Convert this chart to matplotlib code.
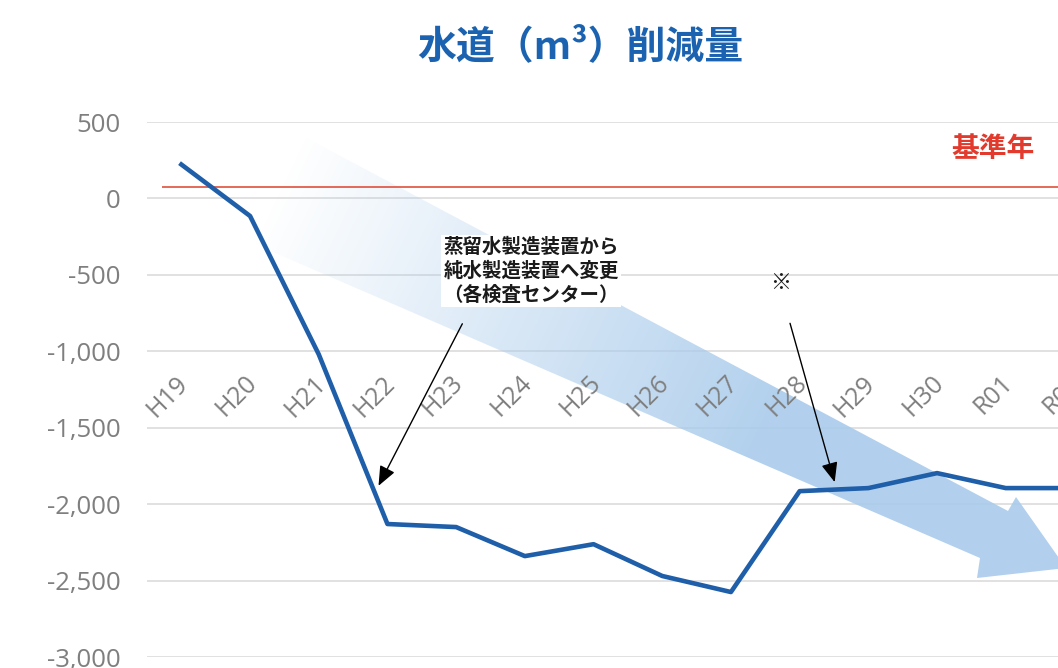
import numpy as np
import matplotlib
matplotlib.use("Agg")
import matplotlib.pyplot as plt
import matplotlib.transforms as mtransforms
from matplotlib.patches import Polygon
from matplotlib.ticker import FuncFormatter

# data
categories = ["H19", "H20", "H21", "H22", "H23", "H24", "H25",
              "H26", "H27", "H28", "H29", "H30", "R01", "R02"]
reduction = [222, -115, -1020, -2130, -2150, -2340, -2262,
             -2470, -2575, -1915, -1895, -1797, -1895, -1895]
baseline = 72
yticks = [500, 0, -500, -1000, -1500, -2000, -2500, -3000]

CJK = ["Noto Sans CJK JP", "DejaVu Sans"]
plt.rcParams["font.family"] = ["Open Sans", "Noto Sans CJK JP", "DejaVu Sans"]

W, H = 1058, 668
fig = plt.figure(figsize=(W / 100, H / 100), dpi=100)
fig.patch.set_facecolor("white")

# pixel coords (origin top-left) -> figure
pix = mtransforms.Affine2D().scale(1.0 / W, -1.0 / H).translate(0, 1) + fig.transFigure


def fx(x, y):
    return x / W, 1 - y / H


step = 68.7
ax = fig.add_axes([147 / W, (H - 657) / H, (W - 147) / W, (657 - 122) / H])
ax.set_facecolor("none")

# big gradient arrow behind the line
band_pts = [(207, 85), (1008, 511), (1016, 497), (1066, 568),
            (977, 578), (980, 558), (185, 214)]
band = Polygon(band_pts, closed=True, transform=pix)
gx0, gx1, gy0, gy1 = 175, 1075, 78, 590
cols, rows = 450, 256
xs = np.linspace(gx0, gx1, cols)
ys = np.linspace(gy0, gy1, rows)
XX, YY = np.meshgrid(xs, ys)
d = np.array([1066 - 196, 568 - 150], dtype=float)
L = np.hypot(*d)
u = d / L
t = ((XX - 196) * u[0] + (YY - 150) * u[1]) / L
alpha = np.clip(t * 1.6 - 0.15, 0, 0.9)
rgba = np.zeros((rows, cols, 4))
rgba[..., 0] = 169 / 255
rgba[..., 1] = 203 / 255
rgba[..., 2] = 235 / 255
rgba[..., 3] = alpha
im = ax.imshow(rgba, extent=[gx0, gx1, gy1, gy0], origin="upper", transform=pix,
               aspect="auto", interpolation="bilinear", zorder=1.5)
im.set_clip_path(band)
im.set_clip_box(fig.bbox)

x = np.arange(len(categories))
ax.hlines(baseline, -0.28, len(categories), color="#e0503c", lw=1.2, zorder=1.8)
ax.plot(x, reduction, color="#1f5ea8", lw=3.3, zorder=3, solid_joinstyle="round")

ax.set_xlim(-0.5, -0.5 + (W - 147) / step)
ax.set_ylim(-3000, 500)
ax.set_yticks(yticks)
ax.yaxis.set_major_formatter(FuncFormatter(lambda v, p: f"{v:,.0f}"))
ax.set_xticks([])
ax.yaxis.grid(True, color="#d9d9d9", lw=1.1)
ax.set_axisbelow(True)
ax.tick_params(axis="y", length=0, pad=19, labelsize=18.5, labelcolor="#7f7f7f")
for s in ax.spines.values():
    s.set_visible(False)

for i, c in enumerate(categories):
    ax.text(i + 0.05, -1185, c, rotation=45, rotation_mode="anchor",
            ha="right", va="center", fontsize=18, color="#7f7f7f", zorder=2.5)

# annotations
arrow = dict(arrowstyle="-|>,head_length=0.6,head_width=0.25", color="black",
             lw=1.0, shrinkA=0, shrinkB=0, mutation_scale=20)
ax.annotate("", xy=(2.87, -1880), xytext=(4.09, -820), arrowprops=arrow, zorder=4)
ax.annotate("", xy=(9.51, -1856), xytext=(8.86, -817), arrowprops=arrow, zorder=4)

ax.text(531, 271, "蒸留水製造装置から\n純水製造装置へ変更\n（各検査センター）",
        transform=pix, ha="center", va="center", fontsize=14, fontweight="bold",
        family=CJK, color="#1a1a1a", linespacing=1.3, zorder=5,
        bbox=dict(fc="white", ec="none", pad=2))

fig.text(*fx(580, 47), "水道（m³）削減量", ha="center", va="center", fontsize=28,
         fontweight="bold", color="#1b63b0", family=CJK)
fig.text(*fx(993, 149), "基準年", ha="center", va="center", fontsize=20,
         fontweight="bold", color="#e23b2e", family=CJK)
fig.text(*fx(781, 283), "※", ha="center", va="center", fontsize=15,
         color="#1a1a1a", family=CJK)

fig.savefig("out.png", dpi=100)
